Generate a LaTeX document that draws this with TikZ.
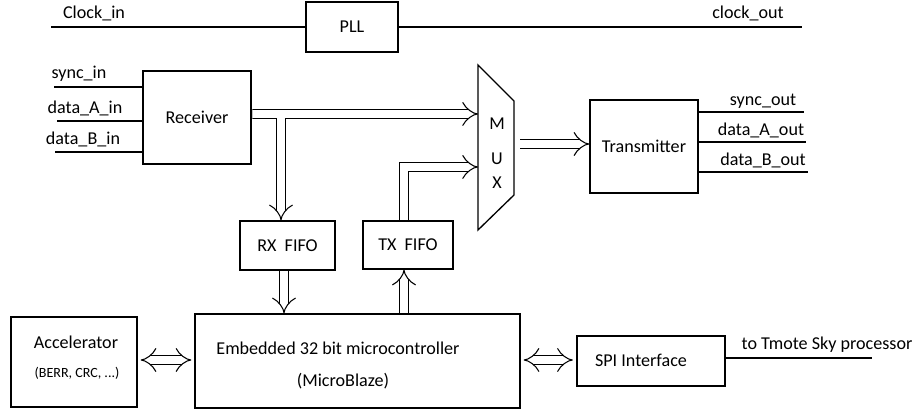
\documentclass[tikz,border=0pt]{standalone}
\usepackage{fontspec}
\setmainfont{Carlito}
\usepackage{tikz}
\usetikzlibrary{arrows.meta,calc}
\usepackage[dvipsnames,svgnames]{xcolor}

\begin{document}
\begin{tikzpicture}[font=\fontsize{10.3}{12}\selectfont,line width=0.6pt,
    box/.style={draw,line width=0.75pt,inner sep=0pt},
    dbl/.style={double,double distance=4.3pt,line width=0.6pt},
    lbl/.style={inner sep=0pt},
    >={Implies}]

    \useasboundingbox (0,0) rectangle (18.28,8.24);

    % Gambar PLL dengan garis clock
    \node[box,minimum width=1.84cm,minimum height=1cm] (pll) at (7.04,7.70) {PLL};
    \coordinate (clkin) at (1.02,7.70);
    \coordinate (clkout) at (16.04,7.70);
    \draw (clkin) -- (pll.west);
    \draw (pll.east) -- (clkout);
    \node[lbl] (lclkin) at (1.88,7.98) {Clock\_in};
    \node[lbl] (lclkout) at (14.96,7.98) {clock\_out};

    % Gambar receiver dan transmitter
    \node[box,minimum width=2.16cm,minimum height=1.86cm] (recv) at (3.94,5.89) {Receiver};
    \node[box,minimum width=2.16cm,minimum height=1.86cm] (trans) at (12.88,5.31) {Transmitter};

    % Gambar sinyal masuk dan keluar
    \coordinate (syncin) at (1.08,6.50);
    \coordinate (dain) at (1.14,5.82);
    \coordinate (dbin) at (1.10,5.20);
    \draw (syncin) -- (syncin -| recv.west);
    \draw (dain) -- (dain -| recv.west);
    \draw (dbin) -- (dbin -| recv.west);
    \node[lbl] (lsyncin) at (1.58,6.76) {sync\_in};
    \node[lbl] (ldain) at (1.70,6.08) {data\_A\_in};
    \node[lbl] (ldbin) at (1.66,5.46) {data\_B\_in};

    \coordinate (syncout) at (16.08,6.00);
    \coordinate (daout) at (16.12,5.40);
    \coordinate (dbout) at (16.16,4.80);
    \draw (syncout -| trans.east) -- (syncout);
    \draw (daout -| trans.east) -- (daout);
    \draw (dbout -| trans.east) -- (dbout);
    \node[lbl] (lsyncout) at (15.26,6.22) {sync\_out};
    \node[lbl] (ldaout) at (15.22,5.64) {data\_A\_out};
    \node[lbl] (ldbout) at (15.26,5.04) {data\_B\_out};

    % Gambar MUX berbentuk trapesium
    \coordinate (muxa) at (9.56,6.94);
    \coordinate (muxb) at (10.28,6.22);
    \coordinate (muxc) at (10.28,4.34);
    \coordinate (muxd) at (9.56,3.64);
    \draw[line width=0.75pt] (muxa) -- (muxb) -- (muxc) -- (muxd) -- cycle;
    \node[lbl] (mm) at (9.94,5.76) {M};
    \node[lbl] (mu) at (9.94,5.06) {U};
    \node[lbl] (mx) at (9.94,4.58) {X};
    \coordinate (muxin1) at (9.56,5.96);
    \coordinate (muxin2) at (9.56,4.90);
    \coordinate (muxout) at (10.40,5.36);

    % Gambar FIFO
    \node[box,minimum width=1.90cm,minimum height=0.98cm] (rxfifo) at (5.75,3.33) {RX\ \ FIFO};
    \node[box,minimum width=1.80cm,minimum height=0.96cm] (txfifo) at (8.16,3.34) {TX\ \ FIFO};

    % Gambar blok bawah
    \node[box,minimum width=2.52cm,minimum height=1.80cm] (acc) at (1.48,1.00) {};
    \node[lbl] (lacc) at (1.52,1.40) {Accelerator};
    \node[lbl,font=\fontsize{8}{10}\selectfont] (lacc2) at (1.54,0.78) {(BERR, CRC, ...)};
    \node[box,minimum width=6.50cm,minimum height=1.88cm] (mcu) at (7.15,1.02) {};
    \node[lbl] (lmcu) at (6.76,1.28) {Embedded 32 bit microcontroller};
    \node[lbl] (lmcu2) at (6.86,0.62) {(MicroBlaze)};
    \node[box,minimum width=2.96cm,minimum height=1cm] (spi) at (13.02,1.02) {};
    \node[lbl] (lspi) at (12.82,1.04) {SPI Interface};
    \coordinate (tmote) at (17.44,1.08);
    \draw (tmote -| spi.east) -- (tmote);
    \node[lbl] (ltmote) at (16.54,1.34) {to Tmote Sky processor};

    % Gambar panah ganda (satu path supaya salurannya menyatu)
    \coordinate (rxin) at ([xshift=-0.13cm]rxfifo.north);
    \coordinate (rcvo) at ($(recv.east |- muxin1)+(0.4pt,0)$);
    \draw[dbl,<->] (rxin) |- (rcvo) -- (muxin1);

    \coordinate (rxout) at ([xshift=-0.07cm]rxfifo.south);
    \draw[dbl,->,shorten <=0.4pt] (rxout) -- (rxout |- mcu.north);
    \coordinate (txin) at ([xshift=-0.08cm]txfifo.south);
    \draw[dbl,->,shorten <=0.4pt] (txin |- mcu.north) -- (txin);
    \coordinate (txout) at ([xshift=-0.08cm]txfifo.north);
    \draw[dbl,->,shorten <=0.4pt] (txout) |- (muxin2);
    \draw[dbl,->] (muxout) -- (muxout -| trans.west);

    \draw[dbl,<->,shorten <=1.7pt,shorten >=1.7pt] (acc.east |- 0,1.04) -- (mcu.west |- 0,1.04);
    \draw[dbl,<->,shorten <=1.7pt,shorten >=2pt] (mcu.east |- 0,1.04) -- (spi.west |- 0,1.04);

\end{tikzpicture}
\end{document}
